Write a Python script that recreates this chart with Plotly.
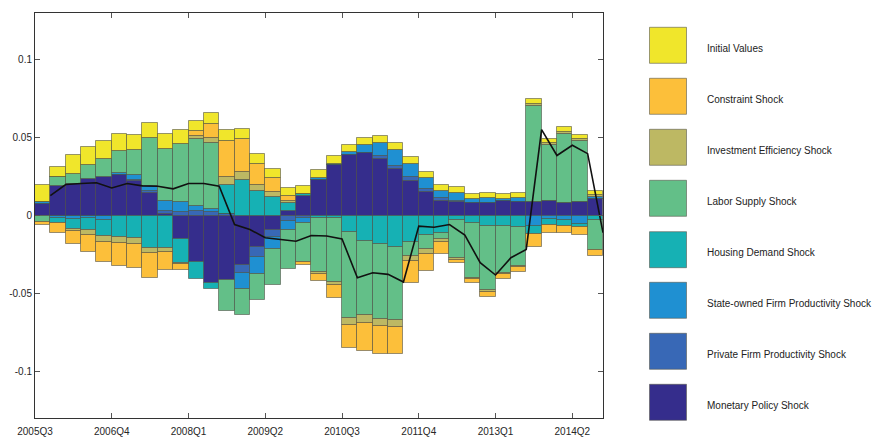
import plotly.graph_objects as go

# x positions: bar i centred at i + 0.5 ; quarters 2005Q3 .. 2014Q3
n_bars = 37
tick_pos = [0, 5, 10, 15, 20, 25, 30, 35]
tick_labels = ["2005Q3", "2006Q4", "2008Q1", "2009Q2", "2010Q3", "2011Q4", "2013Q1", "2014Q2"]

monetary = [0.0075, 0.019, 0.020, 0.0235, 0.025, 0.026, 0.022, 0.0145, 0.001, -0.0154,
            -0.030, -0.0432, -0.0415, -0.0318, -0.0203, -0.009, 0.0028, 0.0128, 0.0226, 0.0325,
            0.0387, 0.040, 0.0365, 0.030, 0.022, 0.015, 0.009, 0.0085, 0.008, 0.008,
            0.009, 0.0085, 0.0085, 0.0092, 0.008, 0.0085, 0.0109]
private = [0, -0.0005, -0.0005, -0.0005, -0.0006, 0, 0.001, 0.0015, 0.002, 0.0025,
           0.003, 0.002, 0.001, -0.0053, -0.0064, -0.0049, -0.0036, -0.0019, 0, 0,
           0, 0, 0.002, 0.002, 0.003, 0.002, 0.002, 0.001, 0, 0,
           0, 0, 0, 0, 0, 0, 0]
state = [0.001, -0.001, -0.0015, -0.001, -0.002, 0.0015, 0.003, 0.0028, 0.006, 0.006,
         0.003, 0.002, 0, -0.0103, -0.0107, -0.0075, -0.006, -0.0028, 0.0015, 0.0006,
         0.002, 0.0053, 0.0083, 0.010, 0.008, 0.0068, 0.0049, 0.0049, 0.0028, 0.0032,
         0.0017, 0.0028, -0.0068, -0.002, -0.0032, -0.0053, 0.001]
housing = [0, -0.0034, -0.0064, -0.0081, -0.0103, -0.0137, -0.0147, -0.0207, -0.0207, -0.015,
           -0.0105, -0.0043, 0.0186, 0.0226, 0.0156, 0.0118, 0.0051, 0.001, -0.0015, -0.0015,
           -0.0107, -0.0165, -0.0182, -0.0203, -0.0169, -0.0128, -0.0111, -0.003, -0.0051, -0.0068,
           -0.0068, -0.0075, -0.0049, -0.0043, -0.0036, -0.002, -0.0032]
labor = [-0.0039, 0.006, 0.0064, 0.009, 0.011, 0.014, 0.016, 0.031, 0.0338, 0.0376,
         0.0432, 0.0423, -0.0199, -0.0167, -0.0167, -0.0235, -0.0246, -0.0252, -0.0348, -0.0412,
         -0.0553, -0.0476, -0.0483, -0.0468, -0.0088, -0.009, -0.0043, -0.0246, -0.0353, -0.0412,
         -0.0299, -0.025, 0.062, 0.036, 0.0446, 0.0391, -0.0192]
investment = [0, 0, -0.0017, -0.0032, -0.004, -0.0038, -0.0038, -0.0036, -0.0026, -0.001,
              0.002, 0.0036, 0.0049, 0.0052, 0.0043, 0.0034, 0.0017, 0, -0.0015, -0.002,
              -0.0045, -0.0051, -0.0045, -0.0045, -0.0036, -0.0032, -0.0015, -0.001, -0.0006, -0.0008,
              -0.0006, -0.0006, 0.0008, 0.0013, 0.001, 0.0015, 0.001]
constraint = [-0.0021, -0.0064, -0.0085, -0.0107, -0.013, -0.015, -0.015, -0.016, -0.0118, -0.0036,
              0.003, 0.0087, 0.0235, 0.0213, 0.0134, 0.0087, 0.0028, -0.0021, -0.0045, -0.0083,
              -0.0143, -0.0177, -0.0182, -0.0175, -0.0139, -0.0107, -0.0081, -0.002, -0.0026, -0.0038,
              -0.0036, -0.003, -0.0085, -0.0049, -0.0047, -0.0049, -0.0036]
initial = [0.011, 0.006, 0.0124, 0.0117, 0.012, 0.011, 0.010, 0.0096, 0.0094, 0.0088,
           0.0064, 0.0073, 0.0068, 0.0067, 0.0062, 0.006, 0.0053, 0.0053, 0.0052, 0.005,
           0.0045, 0.0047, 0.0045, 0.0045, 0.0045, 0.004, 0.0037, 0.0036, 0.0032, 0.0032,
           0.0032, 0.0032, 0.0032, 0.0028, 0.003, 0.0028, 0.003]

# black line: total, plotted at positions 1..37
line_total = [0.0128, 0.0199, 0.0205, 0.021, 0.0177, 0.0205, 0.019, 0.0188, 0.0171, 0.0205,
              0.0205, 0.0188, -0.0058, -0.009, -0.0143, -0.0154, -0.0165, -0.0128, -0.0132, -0.015,
              -0.040, -0.0368, -0.0378, -0.0427, -0.0068, -0.0075, -0.0058, -0.0126, -0.0303, -0.0382,
              -0.0271, -0.0218, 0.0551, 0.0385, 0.0451, 0.0397, -0.011]

series_names = ["Monetary Policy Shock", "Private Firm Productivity Shock",
                "State-owned Firm Productivity Shock", "Housing Demand Shock",
                "Labor Supply Shock", "Investment Efficiency Shock",
                "Constraint Shock", "Initial Values"]
series_vals = [monetary, private, state, housing, labor, investment, constraint, initial]
series_colors = ["#352D8C", "#3868B6", "#1F90D2", "#16B1B4",
                 "#63BF88", "#BDB863", "#FCBF3A", "#F0E62B"]

FONT = "Liberation Sans, Arial, sans-serif"
bar_x = [i + 0.5 for i in range(n_bars)]
line_x = [i + 1 for i in range(len(line_total))]

fig = go.Figure()
for name, vals, col in zip(series_names, series_vals, series_colors):
    fig.add_trace(go.Bar(x=bar_x, y=vals, name=name, width=1.0,
                         marker=dict(color=col, line=dict(color="rgba(70,70,60,0.55)", width=1)),
                         showlegend=False))
fig.add_trace(go.Scatter(x=line_x, y=line_total, mode="lines",
                         line=dict(color="#111111", width=1.6), showlegend=False))

# geometry in pixels
W, H = 875, 439
L, R, T, B = 35, 272, 13, 21
pw, ph = W - L - R, H - T - B

def px(x):
    return (x - L) / pw

def py(y):
    return (H - B - y) / ph

# custom legend (large swatches)
legend_tops = [27.3, 78.3, 129.3, 180.3, 231.7, 282.3, 333.3, 384.3]
shapes = []
annotations = []
for k, (name, col) in enumerate(zip(series_names[::-1], series_colors[::-1])):
    t = legend_tops[k]
    shapes.append(dict(type="rect", xref="paper", yref="paper",
                       x0=px(649.5), x1=px(686.5), y0=py(t + 36), y1=py(t),
                       fillcolor=col, line=dict(color="rgba(90,90,80,0.6)", width=1)))
    annotations.append(dict(xref="paper", yref="paper", x=px(705), y=py(t + 21),
                            text=name, showarrow=False, xanchor="left", yanchor="middle",
                            font=dict(family=FONT, size=10, color="#222222")))

fig.update_layout(
    width=W, height=H,
    margin=dict(l=L, r=R, t=T, b=B),
    barmode="relative", bargap=0,
    plot_bgcolor="white", paper_bgcolor="white",
    shapes=shapes, annotations=annotations,
    showlegend=False,
    font=dict(family=FONT, size=10, color="#262626"),
)
fig.update_xaxes(range=[0, n_bars], tickvals=tick_pos, ticktext=tick_labels,
                 ticks="inside", ticklen=5, tickcolor="#555555", showline=True,
                 linecolor="#333333", linewidth=1, mirror="ticks", showgrid=False,
                 zeroline=False, automargin=False, tickfont=dict(size=10),
                 ticklabelstandoff=4)
fig.update_yaxes(range=[-0.13, 0.13], tickvals=[-0.1, -0.05, 0, 0.05, 0.1],
                 ticktext=["-0.1", "-0.05", "0", "0.05", "0.1"],
                 ticks="inside", ticklen=5, tickcolor="#555555", showline=True,
                 linecolor="#333333", linewidth=1, mirror="ticks", showgrid=False,
                 zeroline=False, automargin=False, tickfont=dict(size=10))

fig.write_html("out.html", config={"displayModeBar": False},
               post_script="document.body.style.margin='0px';document.body.style.overflow='hidden';")
